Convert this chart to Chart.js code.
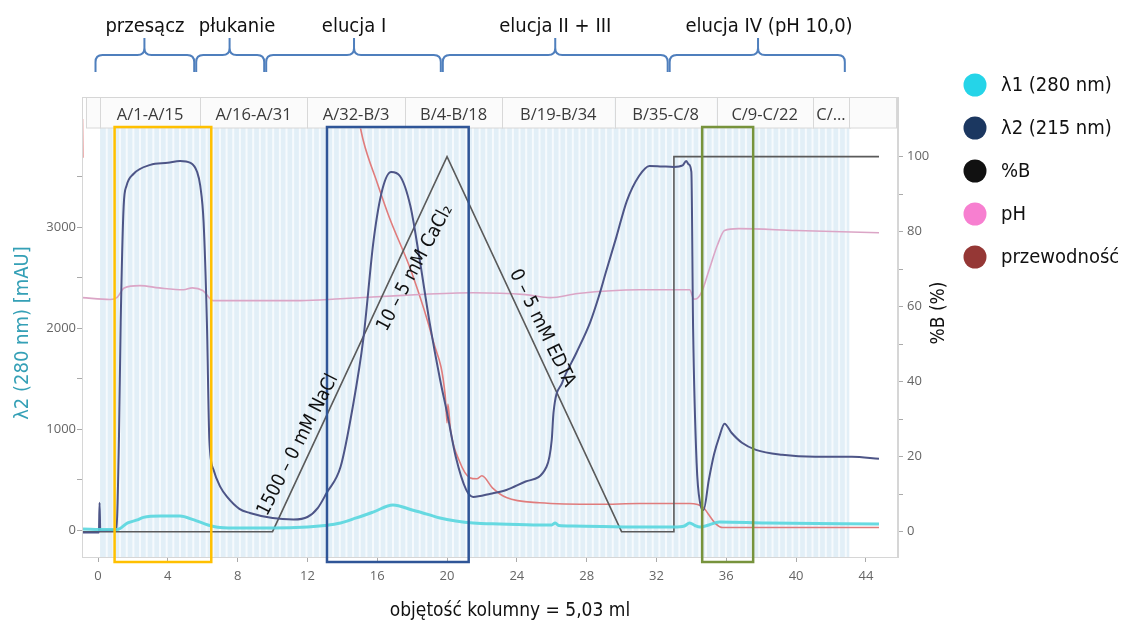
<!DOCTYPE html>
<html lang="pl">
<head>
<meta charset="utf-8">
<title>Chromatogram</title>
<script src="https://cdn.jsdelivr.net/npm/chart.js@4.4.1/dist/chart.umd.min.js"></script>
<style>
  html, body { margin: 0; padding: 0; background: #fff; }
  #wrap { width: 1130px; height: 624px; position: relative; }
</style>
</head>
<body>
<div id="wrap"><canvas id="chart"></canvas></div>
<script>
// series names (legend)
const seriesNames = ['λ1 (280 nm)', 'λ2 (215 nm)', '%B', 'pH', 'przewodność'];
const legendColors = ['#25d4e8', '#1b3760', '#111111', '#f77fd0', '#953735'];

// axis ticks
const xTickValues = [0, 4, 8, 12, 16, 20, 24, 28, 32, 36, 40, 44];
const leftTickValues = [0, 500, 1000, 1500, 2000, 2500, 3000, 3500];
const rightTickValues = [0, 10, 20, 30, 40, 50, 60, 70, 80, 90, 100];

// λ1 (280 nm) [mAU]
const lambda1Vol = [-0.9, 0.5, 1.1, 1.7, 2.25, 2.6, 3.6, 4.7, 5.5, 6.3, 7.0, 8.1, 10.0, 12.0, 13.0, 13.9, 14.8, 15.8, 16.9, 18.0, 19.0, 19.6, 20.5, 21.5, 23.0, 25.3, 26.0, 26.2, 26.4, 27.2, 31.0, 33.0, 33.6, 33.9, 34.2, 34.5, 35.0, 35.6, 38.3, 44.75];
const lambda1Abs = [10, 5, 5, 70, 100, 125, 139, 139, 100, 50, 25, 20, 20, 30, 45, 70, 120, 180, 248, 199, 150, 119, 90, 70, 60, 50, 50, 70, 45, 40, 30, 30, 40, 70, 45, 30, 50, 80, 70, 60];

// λ2 (215 nm) [mAU]
const lambda2Vol = [-0.9, 0.05, 0.09, 0.13, 1.05, 1.2, 1.3, 1.47, 1.63, 2.03, 3.0, 4.0, 4.7, 5.3, 5.68, 5.86, 6.05, 6.24, 6.38, 6.62, 7.0, 7.4, 8.1, 8.7, 10.0, 11.2, 12.0, 12.6, 13.1, 13.9, 14.6, 15.2, 15.8, 16.3, 16.8, 17.3, 17.9, 18.4, 19.0, 19.6, 20.0, 20.5, 21.1, 21.5, 22.5, 23.4, 24.5, 25.7, 26.0, 26.1, 26.6, 27.4, 28.2, 28.7, 29.1, 29.7, 30.3, 31.0, 31.6, 32.3, 33.0, 33.5, 33.7, 33.85, 34.0, 34.1, 34.3, 34.5, 34.7, 35.0, 35.3, 35.6, 35.9, 36.3, 36.9, 37.7, 39.2, 41.1, 43.2, 44.75];
const lambda2Abs = [-25, -25, 270, -5, 0, 900, 2056, 3207, 3406, 3525, 3615, 3635, 3654, 3635, 3545, 3406, 3049, 2056, 894, 596, 430, 328, 210, 169, 119, 105, 129, 220, 367, 626, 1221, 1887, 2880, 3376, 3545, 3505, 3207, 2711, 2056, 1490, 1162, 725, 397, 328, 360, 397, 480, 626, 894, 1162, 1460, 1750, 2056, 2314, 2552, 2900, 3257, 3505, 3605, 3600, 3595, 3610, 3654, 3620, 3545, 1986, 665, 268, 199, 497, 750, 923, 1053, 963, 864, 794, 745, 725, 725, 705];

// %B gradient [%]
const gradientVol = [-0.9, 10.0, 20.0, 30.0, 32.97, 33.0, 44.75];
const gradientB = [0, 0, 100, 0, 0, 100, 100];

// pH trace (plotted against the %B scale)
const phVol = [-0.9, 0.7, 1.1, 1.5, 2.4, 3.5, 4.9, 5.4, 6.0, 6.6, 8.1, 11.6, 13.9, 17.5, 21.5, 24.5, 25.9, 27.5, 31.0, 33.9, 34.15, 34.3, 34.6, 35.0, 35.5, 35.9, 36.7, 40.0, 44.75];
const phVal = [62.4, 61.9, 62.5, 65.0, 65.6, 65.0, 64.5, 65.0, 64.3, 61.6, 61.6, 61.6, 62.1, 63.0, 63.7, 63.2, 62.4, 63.5, 64.5, 64.5, 62.0, 62.1, 64.0, 69.6, 76.5, 80.3, 80.8, 80.3, 79.7];

// conductivity trace (plotted against the %B scale)
const condVol = [-0.89, -0.87, -0.5, 14.6, 15.2, 16.0, 16.7, 18.0, 19.2, 19.9, 20.0, 20.05, 20.2, 20.7, 21.3, 21.7, 22.0, 22.6, 23.4, 25.3, 28.7, 31.0, 33.9, 34.7, 35.0, 35.4, 35.8, 44.75];
const condVal = [110, 99.7, null, 118, 104.3, 93, 83.7, 68.8, 50.9, 36, 29, 34, 27, 18.9, 14.4, 14.1, 14.9, 11.7, 9.1, 7.7, 7.3, 7.5, 7.5, 6.4, 4.5, 2.1, 1.1, 1.1];

// fraction collector header
const fractionLabels = ['', 'A/1-A/15', 'A/16-A/31', 'A/32-B/3', 'B/4-B/18', 'B/19-B/34', 'B/35-C/8', 'C/9-C/22', 'C/...', ''];
const fractionBounds = [-0.7, 0.12, 5.85, 11.98, 17.6, 23.15, 29.6, 35.45, 40.95, 43.05, 45.75];
const fractionSize = 0.3815;

// process phases (braces at the top)
const phaseLabels = ['przesącz', 'płukanie', 'elucja I', 'elucja II + III', 'elucja IV (pH 10,0)'];
const phaseBounds = [-0.2, 5.57, 9.58, 19.7, 32.7, 42.85];
const phaseMid = [2.66, 7.54, 14.67, 26.2, 37.82];
const phaseTextX = [2.69, 7.97, 14.67, 26.2, 38.45];

// highlighted fraction pools
const poolFrom = [0.95, 13.12, 34.62];
const poolTo = [6.49, 21.24, 37.54];
const poolColors = ['#ffc000', '#2f5597', '#77933c'];

// gradient annotations
const noteTexts = ['1500 – 0 mM NaCl', '10 – 5 mM CaCl₂', '0 – 5 mM EDTA'];
const noteVol = [11.46, 18.17, 25.44];
const notePct = [23.1, 70.3, 54.3];
const noteAngle = [-63, -62, 64];

const textFont = '"DejaVu Sans Condensed", "DejaVu Sans", sans-serif';
const tickFont = { family: '"Open Sans", "Noto Sans", sans-serif', size: 13 };

const pts = (xs, ys) => xs.map((x, i) => ({ x, y: ys[i] }));

const stripes = {
  id: 'stripes',
  beforeDatasetsDraw(chart) {
    const { ctx, chartArea: a, scales: { x } } = chart;
    const start = fractionBounds[1], end = fractionBounds[fractionBounds.length - 2];
    const x0 = x.getPixelForValue(start), x1 = x.getPixelForValue(end);
    ctx.save();
    ctx.fillStyle = '#e2eff7';
    ctx.fillRect(x0, a.top, x1 - x0, a.bottom - a.top);
    ctx.strokeStyle = 'rgba(255,255,255,0.7)';
    ctx.lineWidth = 2;
    for (let v = start + fractionSize; v < end - 0.05; v += fractionSize) {
      const p = x.getPixelForValue(v);
      ctx.beginPath();
      ctx.moveTo(p, a.top);
      ctx.lineTo(p, a.bottom);
      ctx.stroke();
    }
    ctx.restore();
  }
};

const overlay = {
  id: 'overlay',
  afterDatasetsDraw(chart) {
    const { ctx, chartArea: a, scales: { x, y1 } } = chart;
    ctx.save();
    // fraction header
    const hTop = a.top + 0.5, hBot = a.top + 31;
    ctx.font = '16.5px ' + tickFont.family;
    ctx.textAlign = 'center';
    ctx.textBaseline = 'middle';
    for (let i = 0; i < fractionLabels.length; i++) {
      const l = x.getPixelForValue(fractionBounds[i]);
      const r = x.getPixelForValue(fractionBounds[i + 1]);
      ctx.fillStyle = '#fbfbfb';
      ctx.fillRect(l, hTop, r - l, hBot - hTop);
      ctx.strokeStyle = '#d8d8d8';
      ctx.lineWidth = 1;
      ctx.strokeRect(Math.round(l) + 0.5, hTop, Math.round(r - l), hBot - hTop);
      ctx.fillStyle = '#3a3a3a';
      ctx.fillText(fractionLabels[i], (l + r) / 2, a.top + 18);
    }
    // frame of the plot area
    ctx.strokeStyle = '#d6d6d6';
    ctx.lineWidth = 1;
    ctx.strokeRect(a.left + 0.5, a.top + 0.5, a.right - a.left - 1, a.bottom - a.top);
    // pooled fractions
    ctx.lineWidth = 2.5;
    for (let i = 0; i < poolFrom.length; i++) {
      const l = x.getPixelForValue(poolFrom[i]);
      const r = x.getPixelForValue(poolTo[i]);
      ctx.strokeStyle = poolColors[i];
      ctx.strokeRect(l, a.top + 30, r - l, a.bottom - a.top - 25);
    }
    // gradient notes
    ctx.fillStyle = '#111';
    ctx.font = '19px ' + textFont;
    for (let i = 0; i < noteTexts.length; i++) {
      ctx.save();
      ctx.translate(x.getPixelForValue(noteVol[i]), y1.getPixelForValue(notePct[i]));
      ctx.rotate(noteAngle[i] * Math.PI / 180);
      ctx.fillText(noteTexts[i], 0, 0);
      ctx.restore();
    }
    ctx.restore();
  },
  afterDraw(chart) {
    const { ctx, scales: { x } } = chart;
    ctx.save();
    // phase braces
    const yLine = 55, yTip = 38, yEnd = 72, r = 7;
    ctx.strokeStyle = '#4f7fbd';
    ctx.lineWidth = 2;
    for (let i = 0; i < phaseLabels.length; i++) {
      const x1 = x.getPixelForValue(phaseBounds[i]) + 1;
      const x2 = x.getPixelForValue(phaseBounds[i + 1]) - 1;
      const xm = x.getPixelForValue(phaseMid[i]);
      ctx.beginPath();
      ctx.moveTo(x1, yEnd);
      ctx.lineTo(x1, yLine + r);
      ctx.quadraticCurveTo(x1, yLine, x1 + r, yLine);
      ctx.lineTo(xm - r, yLine);
      ctx.quadraticCurveTo(xm, yLine, xm, yLine - r);
      ctx.lineTo(xm, yTip);
      ctx.moveTo(xm, yLine - r);
      ctx.quadraticCurveTo(xm, yLine, xm + r, yLine);
      ctx.lineTo(x2 - r, yLine);
      ctx.quadraticCurveTo(x2, yLine, x2, yLine + r);
      ctx.lineTo(x2, yEnd);
      ctx.stroke();
    }
    ctx.fillStyle = '#111';
    ctx.font = '20px ' + textFont;
    ctx.textAlign = 'center';
    ctx.textBaseline = 'middle';
    for (let i = 0; i < phaseLabels.length; i++) {
      ctx.fillText(phaseLabels[i], x.getPixelForValue(phaseTextX[i]), 27);
    }
    // axis titles
    ctx.font = '19px ' + textFont;
    ctx.fillText('objętość kolumny = 5,03 ml', 510, 611);
    ctx.save();
    ctx.translate(23, 333);
    ctx.rotate(-Math.PI / 2);
    ctx.fillStyle = '#35a0b6';
    ctx.font = '20px ' + textFont;
    ctx.fillText('λ2 (280 nm) [mAU]', 0, 0);
    ctx.restore();
    ctx.save();
    ctx.translate(939, 313);
    ctx.rotate(-Math.PI / 2);
    ctx.fillText('%B (%)', 0, 0);
    ctx.restore();
    // legend
    ctx.font = '20px ' + textFont;
    ctx.textAlign = 'left';
    chart.data.datasets.forEach((ds, i) => {
      const cy = 85 + i * 43;
      ctx.beginPath();
      ctx.arc(975, cy, 11.5, 0, Math.PI * 2);
      ctx.fillStyle = legendColors[i];
      ctx.fill();
      ctx.fillStyle = '#111';
      ctx.fillText(ds.label, 1001, cy + 1);
    });
    ctx.restore();
  }
};

new Chart(document.getElementById('chart'), {
  type: 'line',
  data: {
    datasets: [
      { label: seriesNames[0], data: pts(lambda1Vol, lambda1Abs), yAxisID: 'y',
        borderColor: 'rgba(88,214,222,0.9)', borderWidth: 3, cubicInterpolationMode: 'monotone' },
      { label: seriesNames[1], data: pts(lambda2Vol, lambda2Abs), yAxisID: 'y',
        borderColor: '#4d5587', borderWidth: 2, cubicInterpolationMode: 'monotone' },
      { label: seriesNames[2], data: pts(gradientVol, gradientB), yAxisID: 'y1',
        borderColor: '#5a5a5a', borderWidth: 1.6, tension: 0 },
      { label: seriesNames[3], data: pts(phVol, phVal), yAxisID: 'y1',
        borderColor: '#dba5c6', borderWidth: 1.6, cubicInterpolationMode: 'monotone' },
      { label: seriesNames[4], data: pts(condVol, condVal), yAxisID: 'y1',
        borderColor: '#e07c7c', borderWidth: 1.6, cubicInterpolationMode: 'monotone', spanGaps: false }
    ]
  },
  options: {
    responsive: true,
    maintainAspectRatio: false,
    animation: false,
    layout: { padding: { left: 0, top: 97, right: 172, bottom: 0 } },
    elements: { point: { radius: 0 } },
    plugins: { legend: { display: false }, tooltip: { enabled: false } },
    scales: {
      x: {
        type: 'linear',
        min: -0.917,
        max: 45.84,
        afterBuildTicks: axis => { axis.ticks = xTickValues.map(value => ({ value })); },
        afterFit: axis => { axis.height = 67; },
        ticks: { font: tickFont, color: '#666', padding: 6, maxRotation: 0 },
        grid: { drawOnChartArea: false, tickLength: 5, color: '#aaa' },
        border: { color: '#d6d6d6' }
      },
      y: {
        position: 'left',
        min: -267,
        max: 4287,
        afterBuildTicks: axis => { axis.ticks = leftTickValues.map(value => ({ value })); },
        afterFit: axis => { axis.width = 82; },
        ticks: { font: tickFont, color: '#666', padding: 1,
          callback: v => (v % 1000 === 0 ? v : '') },
        grid: { drawOnChartArea: false, tickLength: 5, color: '#aaa' },
        border: { color: '#d6d6d6' }
      },
      y1: {
        position: 'right',
        min: -6.75,
        max: 115.9,
        afterBuildTicks: axis => { axis.ticks = rightTickValues.map(value => ({ value })); },
        afterFit: axis => { axis.width = 60; },
        ticks: { font: tickFont, color: '#666', padding: 4,
          callback: v => (v % 20 === 0 ? v : '') },
        grid: { drawOnChartArea: false, tickLength: 5, color: '#aaa' },
        border: { color: '#d6d6d6' }
      }
    }
  },
  plugins: [stripes, overlay]
});
</script>
</body>
</html>
